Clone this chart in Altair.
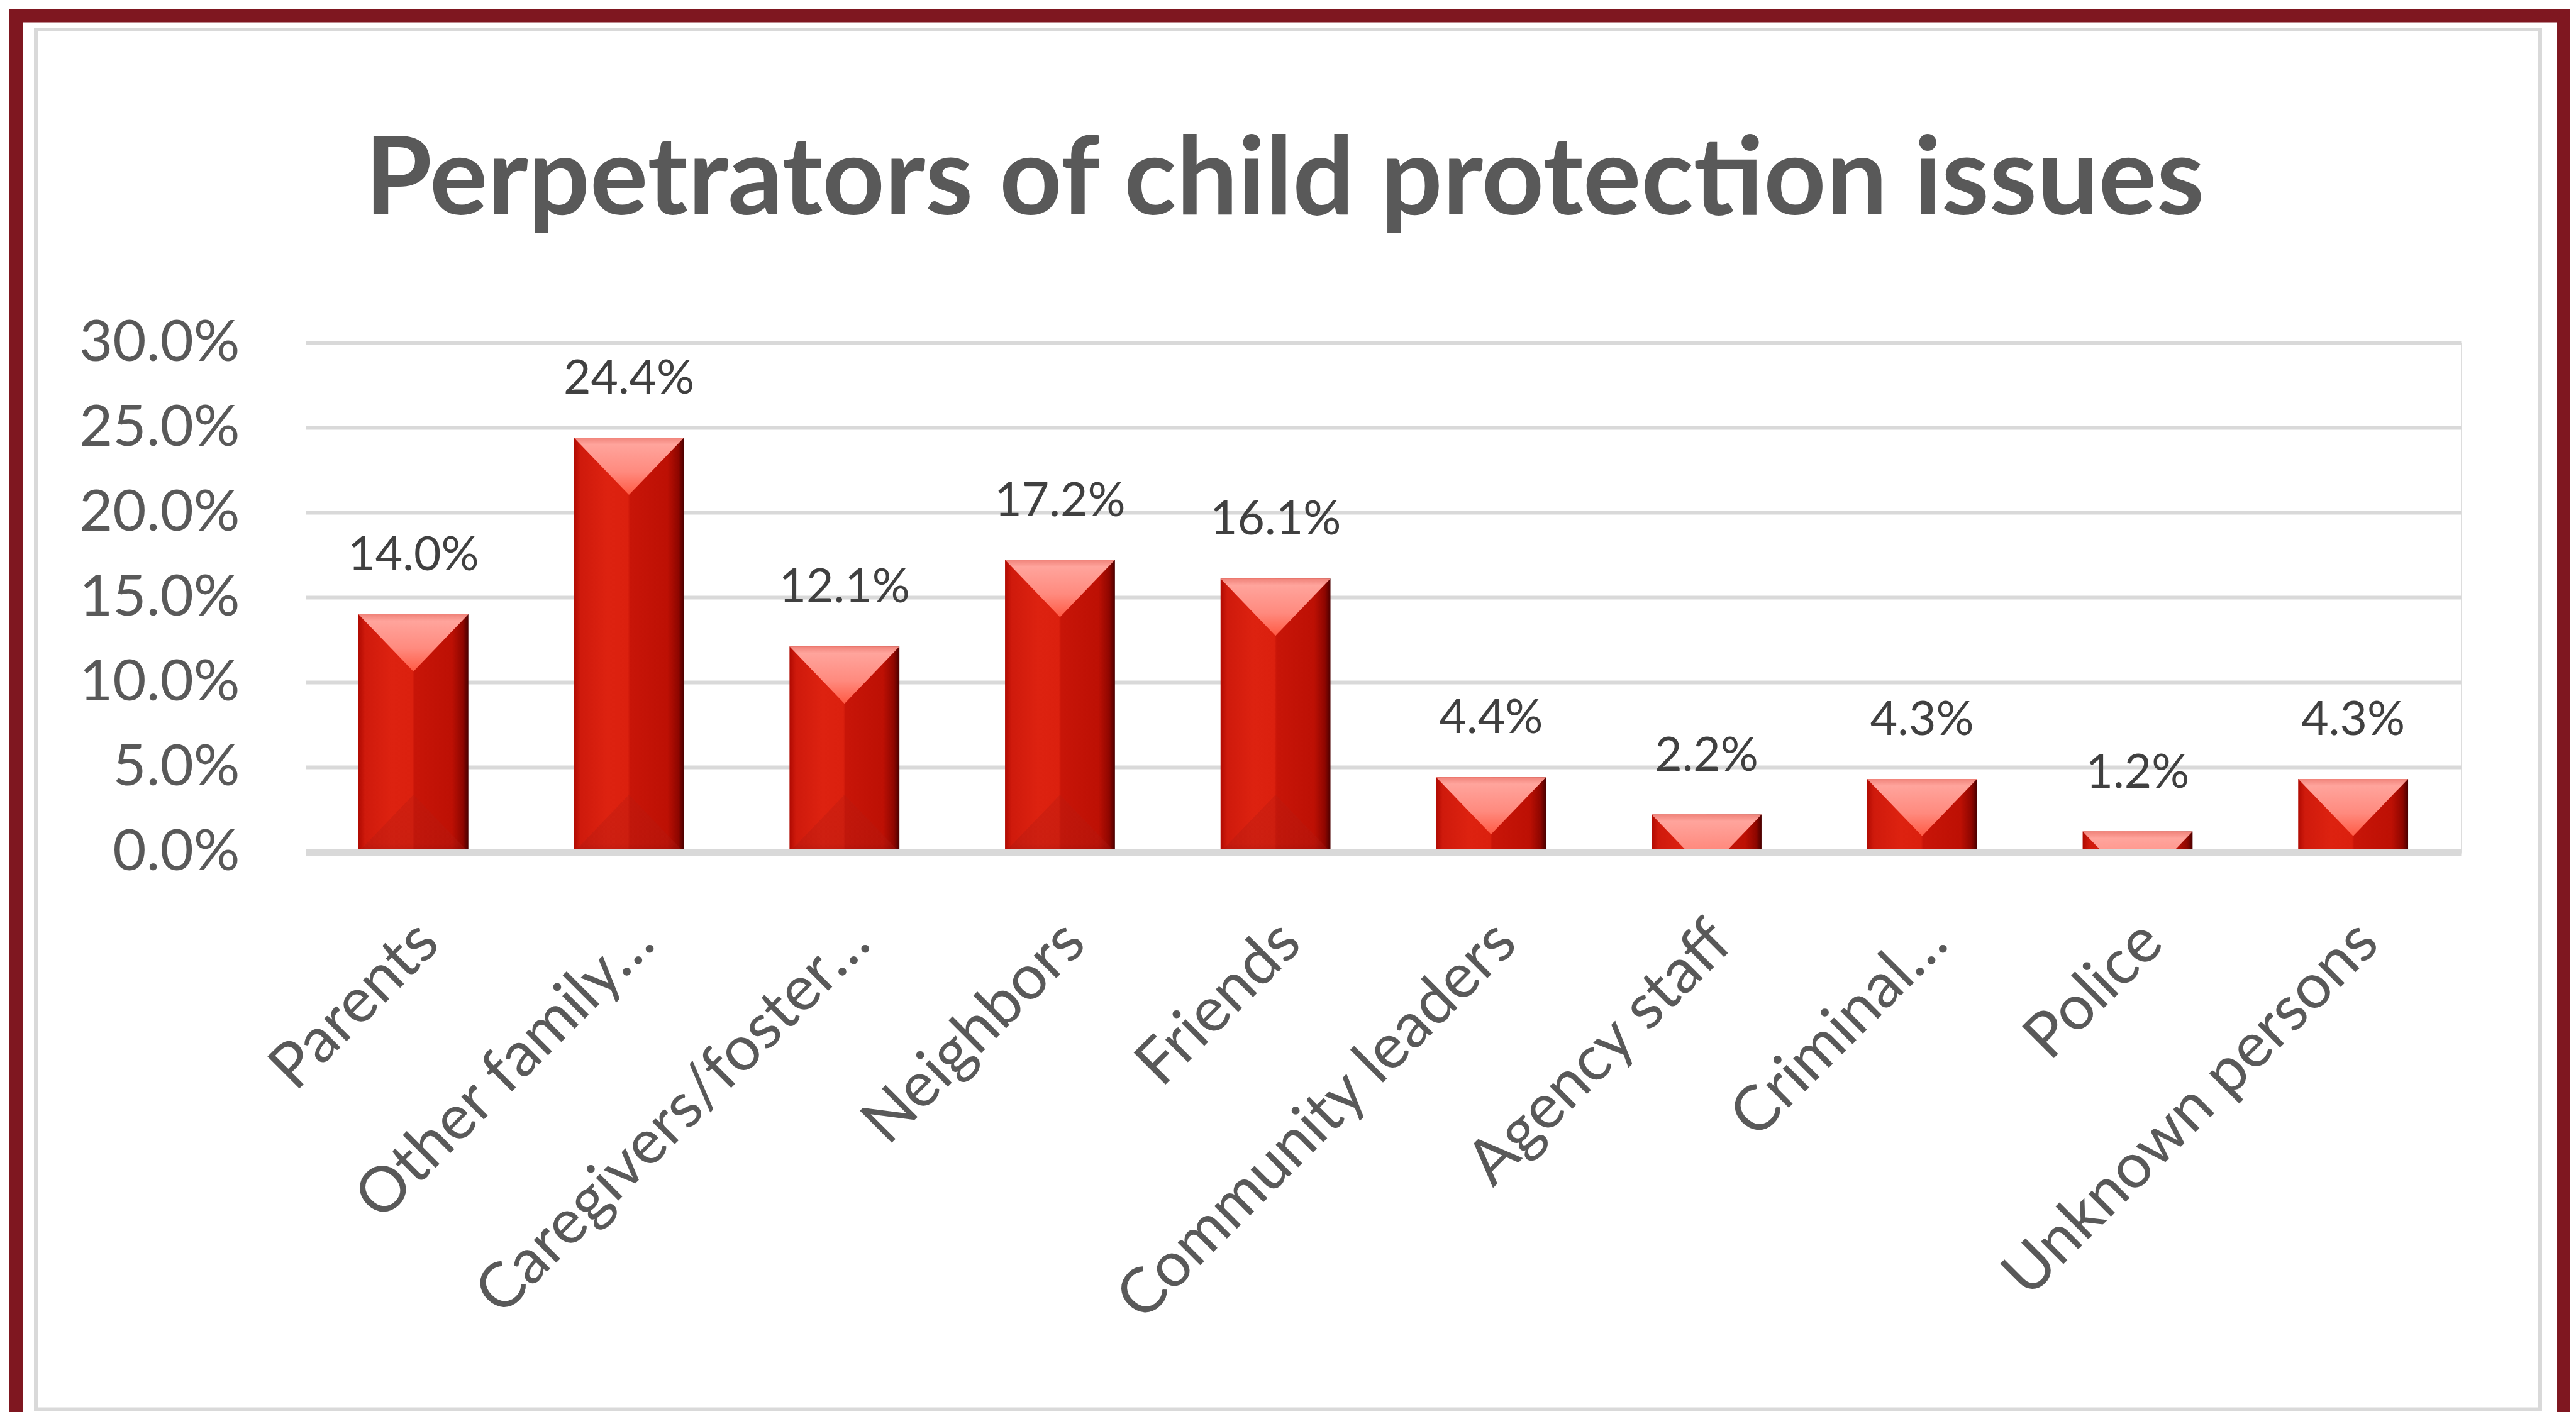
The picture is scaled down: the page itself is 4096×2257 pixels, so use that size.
import altair as alt
import pandas as pd

# ---------------- data ----------------
categories = ["Parents", "Other family…", "Caregivers/foster…", "Neighbors", "Friends",
              "Community leaders", "Agency staff", "Criminal…", "Police", "Unknown persons"]
values = [0.140, 0.244, 0.121, 0.172, 0.161, 0.044, 0.022, 0.043, 0.012, 0.043]
y_ticks = [0.0, 0.05, 0.10, 0.15, 0.20, 0.25, 0.30]
title_text = "Perpetrators of child protection issues"

df = pd.DataFrame({"cat": categories, "val": values})

# ---------------- layout (output pixels) ----------------
W, H = 3427, 810
PAD_L, PAD_T = 478, 537
TOTAL_W, TOTAL_H = 4080, 2238
PAD_R = TOTAL_W - PAD_L - W
PAD_B = TOTAL_H - PAD_T - H

FONT = "Lato"
AX_COLOR = "#595959"

x_enc = alt.X(
    "cat:N", sort=categories,
    scale=alt.Scale(domain=categories, paddingInner=0.49, paddingOuter=0.245),
    axis=alt.Axis(title=None, labelAngle=-45, labelAlign="right", labelBaseline="middle",
                  labelPadding=128, labelOffset=24, labelFont=FONT, labelFontSize=100,
                  labelColor=AX_COLOR, labelLimit=0, ticks=False, domain=True,
                  domainColor="#d9d9d9", domainWidth=11, grid=False, zindex=1),
)
y_axis = alt.Axis(title=None, values=y_ticks, format=".1%", labelFont=FONT, labelFontSize=92,
                  labelColor=AX_COLOR, labelPadding=105, labelLimit=0, ticks=False, domain=False,
                  grid=True, gridColor="#d9d9d9", gridWidth=6)
y_scale = alt.Scale(domain=[0, 0.30], nice=False, zero=True)
y_enc = alt.Y("val:Q", scale=y_scale, axis=y_axis)

base = alt.Chart(df)

bar_fill = alt.Gradient(
    gradient="linear", x1=0, x2=1, y1=0, y2=0,
    stops=[
        alt.GradientStop(color="#b00a02", offset=0.0),
        alt.GradientStop(color="#cf1a0c", offset=0.06),
        alt.GradientStop(color="#dd2210", offset=0.3),
        alt.GradientStop(color="#db200e", offset=0.49),
        alt.GradientStop(color="#c81508", offset=0.51),
        alt.GradientStop(color="#bd1004", offset=0.85),
        alt.GradientStop(color="#8e0600", offset=0.95),
        alt.GradientStop(color="#4a0000", offset=1.0),
    ],
)
bars = base.mark_bar(fill=bar_fill, strokeWidth=0).encode(x=x_enc, y=y_enc)

cap_fill = alt.Gradient(
    gradient="linear", x1=0, x2=0, y1=0, y2=1,
    stops=[
        alt.GradientStop(color="#f0837a", offset=0.0),
        alt.GradientStop(color="#ffa49c", offset=0.12),
        alt.GradientStop(color="#ff8a7e", offset=0.6),
        alt.GradientStop(color="#ff5a44", offset=1.0),
    ],
)
bar_w = W / len(categories) * 0.51
caps = base.mark_point(
    shape="M -1 0 L 1 0 L 0 1.04 Z", size=bar_w * bar_w, filled=True, opacity=1,
    fill=cap_fill, strokeWidth=0, clip=True,
).encode(x=x_enc, y=y_enc)

bottom_fill = alt.Gradient(
    gradient="linear", x1=0, x2=0, y1=0, y2=1,
    stops=[
        alt.GradientStop(color="#b81a10", offset=0.0),
        alt.GradientStop(color="#b01a12", offset=0.85),
        alt.GradientStop(color="#8a1210", offset=1.0),
    ],
)
bottoms = base.transform_filter(alt.datum.val >= 0.08).transform_calculate(zero="0").mark_point(
    shape="M -1 0 L 1 0 L 0 -1.04 Z", size=bar_w * bar_w, filled=True, opacity=0.35,
    fill=bottom_fill, strokeWidth=0,
).encode(x=x_enc, y=alt.Y("zero:Q", scale=y_scale, axis=y_axis))

labels = base.mark_text(
    font=FONT, fontSize=75, color="#404040", baseline="alphabetic", align="center", dy=-70,
).encode(x=x_enc, y=y_enc, text=alt.Text("val:Q", format=".1%"))

# ---------------- chart frame (decoration) ----------------
frame_df = pd.DataFrame({"k": [0]})
maroon = alt.Chart(frame_df).mark_rect(
    fillOpacity=0, stroke="#7f1720", strokeWidth=21,
).encode(x=alt.value(17.5 - PAD_L), x2=alt.value(4068.5 - PAD_L),
         y=alt.value(17 - PAD_T), y2=alt.value(TOTAL_H + 60 - PAD_T))
grey = alt.Chart(frame_df).mark_rect(
    fillOpacity=0, stroke="#d9d9d9", strokeWidth=6,
).encode(x=alt.value(49 - PAD_L), x2=alt.value(4031 - PAD_L),
         y=alt.value(39 - PAD_T), y2=alt.value(2233.5 - PAD_T))

chart = alt.layer(maroon, grey, bars, caps, bottoms, labels).properties(
    width=W, height=H,
    title=alt.TitleParams(text=title_text, font=FONT, fontSize=173, fontWeight="bold",
                          color=AX_COLOR, anchor="middle", baseline="alphabetic",
                          offset=0, dy=499, dx=-157),
    padding={"left": PAD_L, "top": PAD_T, "right": PAD_R, "bottom": PAD_B},
    autosize=alt.AutoSizeParams(type="none"),
).configure_view(stroke=None).configure(background="white")

chart.save("out.html", embed_options={"renderer": "svg", "actions": False})
